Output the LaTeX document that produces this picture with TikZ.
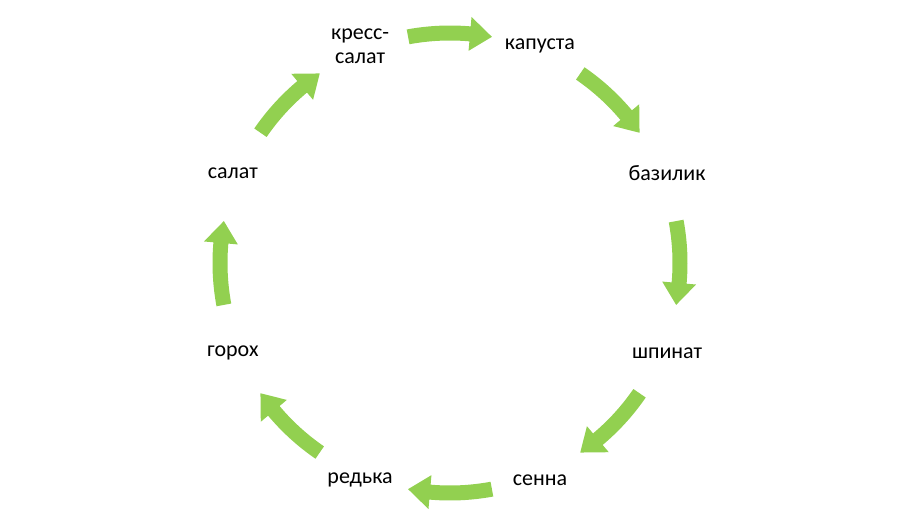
\documentclass[tikz,border=0pt]{standalone}
\usepackage{fontspec}
\setmainfont{Carlito}
\usepackage{tikz}
\definecolor{leafgreen}{HTML}{92D050}
\tikzset{
  plant/.style={font=\fontsize{16.5}{18}\selectfont, align=center, inner sep=1pt},
  bend arrow/.style={fill=leafgreen, draw=none}
}
% curved block arrow centred on angle #1, running clockwise
\newcommand{\cyclearrow}[1]{%
  \fill[bend arrow] (#1+10.5:237.5) arc[start angle=#1+10.5, end angle=#1-5, radius=237.5]
    -- (#1-5:247) -- (#1-10.5:230) -- (#1-5:213)
    -- (#1-5:222.5) arc[start angle=#1-5, end angle=#1+10.5, radius=222.5] -- cycle;}

\begin{document}
\begin{tikzpicture}[x=0.75pt, y=0.75pt]
\useasboundingbox (0,0) rectangle (900,525);

\begin{scope}[shift={(450,262)}]
% Plants
\node[plant] (kress) at (112.5:235) {кресс-\\салат};
\node[plant] (kapusta) at (67.5:235) {капуста};
\node[plant] (bazilik) at (22.5:235) {базилик};
\node[plant] (shpinat) at (-22.5:235) {шпинат};
\node[plant] (senna) at (-67.5:235) {сенна};
\node[plant] (redka) at (-112.5:235) {редька};
\node[plant] (gorokh) at (-157.5:235) {горох};
\node[plant] (salat) at (157.5:235) {салат};

% Arrows between neighbours
\foreach \a in {90,45,0,-45,-90,-135,180,135} {
  \cyclearrow{\a}
}
\end{scope}

\end{tikzpicture}
\end{document}
